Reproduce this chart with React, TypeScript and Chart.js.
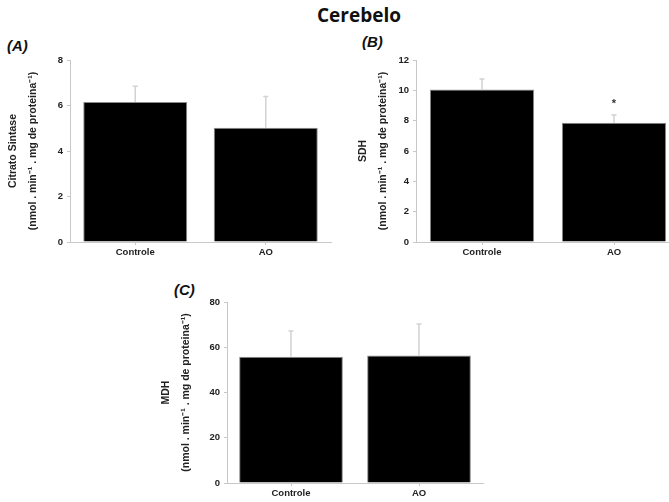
import React, { useEffect, useRef } from "react";
import { Chart, registerables } from "chart.js";

Chart.register(...registerables);

const categories = ["Controle", "AO"];

const csValues = [6.15, 5.02];
const csErrors = [0.7, 1.38];
const csSig = ["", ""];
const csTicks = { max: 8, step: 2 };

const sdhValues = [10.05, 7.87];
const sdhErrors = [0.7, 0.5];
const sdhSig = ["", "*"];
const sdhTicks = { max: 12, step: 2 };

const mdhValues = [55.8, 56.4];
const mdhErrors = [11.4, 13.9];
const mdhSig = ["", ""];
const mdhTicks = { max: 80, step: 20 };

const unitLine = "(nmol . min\u207B\u00B9 . mg de proteina\u207B\u00B9)";

const errorBarPlugin = {
  id: "errorBars",
  afterDatasetsDraw(chart: any, _args: any, opts: any) {
    const { ctx } = chart;
    const meta = chart.getDatasetMeta(0);
    const yScale = chart.scales.y;
    const ds = chart.data.datasets[0];
    const errs: number[] = opts.errors || [];
    const sig: string[] = opts.sig || [];
    ctx.save();
    meta.data.forEach((bar: any, i: number) => {
      const v = ds.data[i] as number;
      const top = yScale.getPixelForValue(v + errs[i]);
      const base = yScale.getPixelForValue(v);
      const x = bar.x;
      ctx.strokeStyle = "#d2d2d2";
      ctx.lineWidth = 1.5;
      ctx.beginPath();
      ctx.moveTo(x, base);
      ctx.lineTo(x, top);
      ctx.moveTo(x - 2.5, top);
      ctx.lineTo(x + 2.5, top);
      ctx.stroke();
      if (sig[i]) {
        ctx.fillStyle = "#333";
        ctx.font = "bold 11px 'Liberation Sans', Arial, sans-serif";
        ctx.textAlign = "center";
        ctx.textBaseline = "middle";
        ctx.fillText(sig[i], x, top - 11);
      }
    });
    ctx.restore();
  },
};

type PanelProps = {
  left: number;
  top: number;
  width: number;
  height: number;
  axisWidth: number;
  padTop: number;
  values: number[];
  errors: number[];
  sig: string[];
  ticks: { max: number; step: number };
  title: string[];
  barPct: number;
};

function Panel(p: PanelProps) {
  const ref = useRef<HTMLCanvasElement>(null);
  useEffect(() => {
    if (!ref.current) return;
    const font = { family: "'Liberation Sans', Arial, sans-serif", size: 9.5, weight: "bold" as const };
    const chart = new Chart(ref.current, {
      type: "bar",
      data: {
        labels: categories,
        datasets: [
          {
            data: p.values,
            backgroundColor: "#000000",
            borderColor: "#8a8a8a",
            borderWidth: 1,
            barPercentage: p.barPct,
            categoryPercentage: 1,
          },
        ],
      },
      options: {
        animation: false,
        responsive: false,
        maintainAspectRatio: false,
        layout: { padding: { top: p.padTop, right: 4, bottom: 0, left: 0 } },
        plugins: {
          legend: { display: false },
          tooltip: { enabled: false },
          errorBars: { errors: p.errors, sig: p.sig },
        } as any,
        scales: {
          x: {
            grid: { display: true, drawOnChartArea: false, drawTicks: true, tickLength: 3, color: "#c8c8c8", offset: false },
            border: { display: true, color: "#c8c8c8", width: 1 },
            ticks: { color: "#222", font, padding: 2, maxRotation: 0 },
            afterFit: (s: any) => {
              s.height = 30;
            },
          },
          y: {
            min: 0,
            max: p.ticks.max,
            grid: { display: true, drawOnChartArea: false, drawTicks: true, tickLength: 3, color: "#c8c8c8" },
            border: { display: true, color: "#c8c8c8", width: 1 },
            ticks: { stepSize: p.ticks.step, color: "#222", font, padding: 4 },
            title: {
              display: true,
              text: p.title,
              color: "#222",
              font: { family: font.family, weight: "bold", size: 10.5, lineHeight: 20 / 10.5 },
              padding: { top: 3, bottom: 0 },
            },
            afterFit: (s: any) => {
              s.width = p.axisWidth;
            },
          },
        },
      },
      plugins: [errorBarPlugin],
    });
    return () => chart.destroy();
  }, []);
  return (
    <canvas
      ref={ref}
      width={p.width}
      height={p.height}
      style={{ position: "absolute", left: p.left, top: p.top, width: p.width, height: p.height }}
    />
  );
}

const labelStyle: React.CSSProperties = {
  position: "absolute",
  fontFamily: "'Liberation Sans', Arial, sans-serif",
  fontWeight: "bold",
  fontStyle: "italic",
  fontSize: 15,
  lineHeight: "16px",
  color: "#111",
  whiteSpace: "nowrap",
};

export default function App() {
  return (
    <div
      style={{
        position: "absolute",
        left: 0,
        top: 0,
        width: 669,
        height: 502,
        overflow: "hidden",
        background: "#fff",
      }}
    >
      <div
        style={{
          position: "absolute",
          left: 259,
          width: 200,
          top: 2,
          textAlign: "center",
          fontFamily: "'Open Sans', sans-serif",
          fontWeight: "bold",
          fontSize: 19,
          lineHeight: "26px",
          color: "#111",
        }}
      >
        Cerebelo
      </div>
      <div style={{ ...labelStyle, left: 7, top: 38 }}>(A)</div>
      <div style={{ ...labelStyle, left: 362, top: 34 }}>(B)</div>
      <div style={{ ...labelStyle, left: 174, top: 282 }}>(C)</div>

      <Panel
        left={0}
        top={30}
        width={335}
        height={242}
        axisWidth={70}
        padTop={30}
        values={csValues}
        errors={csErrors}
        sig={csSig}
        ticks={csTicks}
        title={["Citrato Sintase", unitLine]}
        barPct={0.797}
      />
      <Panel
        left={350}
        top={30}
        width={334}
        height={242}
        axisWidth={66}
        padTop={30}
        values={sdhValues}
        errors={sdhErrors}
        sig={sdhSig}
        ticks={sdhTicks}
        title={["SDH", unitLine]}
        barPct={0.79}
      />
      <Panel
        left={153}
        top={272}
        width={334}
        height={241}
        axisWidth={74}
        padTop={30}
        values={mdhValues}
        errors={mdhErrors}
        sig={mdhSig}
        ticks={mdhTicks}
        title={["MDH", unitLine]}
        barPct={0.81}
      />
    </div>
  );
}
